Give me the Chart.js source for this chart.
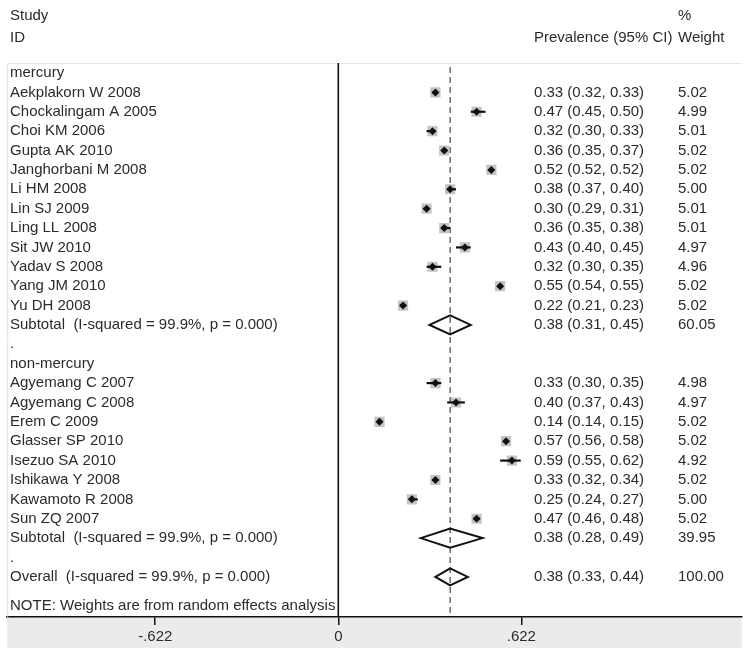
<!DOCTYPE html>
<html>
<head>
<meta charset="utf-8">
<script src="https://cdn.jsdelivr.net/npm/chart.js@4.4.1/dist/chart.umd.min.js"></script>
<style>
  html, body { margin: 0; padding: 0; background: #fff; }
  #forest { display: block; }
</style>
</head>
<body>
<canvas id="forest" width="749" height="656"></canvas>
<script>
// study data (mercury then non-mercury)
var studyNames = [
    'Aekplakorn W 2008', 'Chockalingam A 2005', 'Choi KM 2006', 'Gupta AK 2010',
    'Janghorbani M 2008', 'Li HM 2008', 'Lin SJ 2009', 'Ling LL 2008',
    'Sit JW 2010', 'Yadav S 2008', 'Yang JM 2010', 'Yu DH 2008',
    'Agyemang C 2007', 'Agyemang C 2008', 'Erem C 2009', 'Glasser SP 2010',
    'Isezuo SA 2010', 'Ishikawa Y 2008', 'Kawamoto R 2008', 'Sun ZQ 2007'
];
var studyEst = [0.33, 0.47, 0.32, 0.36, 0.52, 0.38, 0.30, 0.36, 0.43, 0.32, 0.55, 0.22,
                0.33, 0.40, 0.14, 0.57, 0.59, 0.33, 0.25, 0.47];
var studyLow = [0.32, 0.45, 0.30, 0.35, 0.52, 0.37, 0.29, 0.35, 0.40, 0.30, 0.54, 0.21,
                0.30, 0.37, 0.14, 0.56, 0.55, 0.32, 0.24, 0.46];
var studyHigh = [0.33, 0.50, 0.33, 0.37, 0.52, 0.40, 0.31, 0.38, 0.45, 0.35, 0.55, 0.23,
                 0.35, 0.43, 0.15, 0.58, 0.62, 0.34, 0.27, 0.48];
var studyWeight = [5.02, 4.99, 5.01, 5.02, 5.02, 5.00, 5.01, 5.01, 4.97, 4.96, 5.02, 5.02,
                   4.98, 4.97, 5.02, 5.02, 4.92, 5.02, 5.00, 5.02];
var studyRow = [1, 2, 3, 4, 5, 6, 7, 8, 9, 10, 11, 12,
                16, 17, 18, 19, 20, 21, 22, 23];

// pooled estimates
var poolLabels = ['Subtotal  (I-squared = 99.9%, p = 0.000)', 'Subtotal  (I-squared = 99.9%, p = 0.000)',
                  'Overall  (I-squared = 99.9%, p = 0.000)'];
var poolEst = [0.38, 0.38, 0.38];
var poolLow = [0.31, 0.28, 0.33];
var poolHigh = [0.45, 0.49, 0.44];
var poolWeight = [60.05, 39.95, 100.00];
var poolRow = [13, 24, 26];

// other text rows
var otherLabels = ['mercury', '.', 'non-mercury', '.'];
var otherRow = [0, 14, 15, 25];
var noteText = 'NOTE: Weights are from random effects analysis';
var noteRow = 27.5;

// axis
var tickValues = [-0.622, 0, 0.622];
var tickLabels = ['-.622', '0', '.622'];
var overallLine = 0.38;
var xMin = -1.125, xMax = 1.371;
var yMin = -0.516, yMax = 28.07;

var FAMILY = '"Liberation Sans", Arial, Helvetica, sans-serif';
var FONT = '15px ' + FAMILY;
var TEXT = '#2b2b2b';

function fmt(e, l, h) {
    return e.toFixed(2) + ' (' + l.toFixed(2) + ', ' + h.toFixed(2) + ')';
}

var boxPoints = [], dotPoints = [], boxRadius = [];
studyEst.forEach(function (v, i) {
    boxPoints.push({ x: v, y: studyRow[i] });
    dotPoints.push({ x: v, y: studyRow[i] });
    boxRadius.push(7.2 * Math.sqrt(studyWeight[i] / 5));
});

var forestPlugin = {
    id: 'forest',
    beforeDraw: function (chart) {
        var c = chart.ctx, a = chart.chartArea;
        // grey band under axis
        c.save();
        c.fillStyle = '#ebebeb';
        c.fillRect(a.left, a.bottom, a.right - a.left, 31);
        c.restore();
    },
    beforeDatasetsDraw: function (chart) {
        var c = chart.ctx, a = chart.chartArea;
        var xs = chart.scales.x;
        c.save();
        // light frame
        c.strokeStyle = '#e4e4e4';
        c.lineWidth = 1;
        c.beginPath();
        c.moveTo(a.left + 0.5, a.bottom);
        c.lineTo(a.left + 0.5, a.top + 0.5);
        c.lineTo(a.right - 0.5, a.top + 0.5);
        c.stroke();
        // zero line
        var x0 = xs.getPixelForValue(0);
        c.strokeStyle = '#111';
        c.lineWidth = 1.6;
        c.beginPath();
        c.moveTo(x0, a.top);
        c.lineTo(x0, a.bottom);
        c.stroke();
        // overall estimate dashed line
        var xo = xs.getPixelForValue(overallLine);
        c.strokeStyle = '#333';
        c.lineWidth = 1.1;
        c.setLineDash([6, 4]);
        c.beginPath();
        c.moveTo(xo, a.top + 4);
        c.lineTo(xo, a.bottom);
        c.stroke();
        c.restore();
    },
    afterDatasetDraw: function (chart, args) {
        if (args.index !== 0) return;
        var c = chart.ctx, xs = chart.scales.x, ys = chart.scales.y;
        c.save();
        c.strokeStyle = '#111';
        c.lineWidth = 2.2;
        studyEst.forEach(function (v, i) {
            var y = ys.getPixelForValue(studyRow[i]);
            c.beginPath();
            c.moveTo(xs.getPixelForValue(studyLow[i]), y);
            c.lineTo(xs.getPixelForValue(studyHigh[i]), y);
            c.stroke();
        });
        c.restore();
    },
    afterDatasetsDraw: function (chart) {
        var c = chart.ctx, xs = chart.scales.x, ys = chart.scales.y;
        c.save();
        c.strokeStyle = '#111';
        c.lineWidth = 2;
        c.lineJoin = 'miter';
        poolEst.forEach(function (v, i) {
            var y = ys.getPixelForValue(poolRow[i]);
            var h = i === 2 ? 8.5 : 9.5;
            c.beginPath();
            c.moveTo(xs.getPixelForValue(poolLow[i]), y);
            c.lineTo(xs.getPixelForValue(v), y - h);
            c.lineTo(xs.getPixelForValue(poolHigh[i]), y);
            c.lineTo(xs.getPixelForValue(v), y + h);
            c.closePath();
            c.stroke();
        });
        c.restore();
    },
    afterDraw: function (chart) {
        var c = chart.ctx, ys = chart.scales.y;
        var colName = 10, colCI = 534, colW = 678;
        c.save();
        c.font = FONT;
        c.fillStyle = TEXT;
        c.textBaseline = 'middle';
        c.textAlign = 'left';
        // header
        c.fillText('Study', colName, 16);
        c.fillText('ID', colName, 38);
        c.fillText('%', colW, 16);
        c.fillText('Weight', colW, 38);
        c.fillText('Prevalence (95% CI)', colCI, 38);
        otherLabels.forEach(function (t, i) {
            c.fillText(t, colName, ys.getPixelForValue(otherRow[i]));
        });
        studyNames.forEach(function (t, i) {
            var y = ys.getPixelForValue(studyRow[i]);
            c.fillText(t, colName, y);
            c.fillText(fmt(studyEst[i], studyLow[i], studyHigh[i]), colCI, y);
            c.fillText(studyWeight[i].toFixed(2), colW, y);
        });
        poolLabels.forEach(function (t, i) {
            var y = ys.getPixelForValue(poolRow[i]);
            c.fillText(t, colName, y);
            c.fillText(fmt(poolEst[i], poolLow[i], poolHigh[i]), colCI, y);
            c.fillText(poolWeight[i].toFixed(2), colW, y);
        });
        c.fillText(noteText, colName, ys.getPixelForValue(noteRow));
        c.restore();
    }
};

new Chart(document.getElementById('forest'), {
    type: 'scatter',
    data: {
        datasets: [{
            data: boxPoints,
            pointStyle: 'rect',
            pointRadius: boxRadius,
            backgroundColor: '#c4c4c4',
            borderWidth: 0,
            order: 2
        }, {
            data: dotPoints,
            pointStyle: 'rectRot',
            pointRadius: 4,
            backgroundColor: '#111',
            borderWidth: 0,
            order: 1
        }]
    },
    options: {
        responsive: false,
        animation: false,
        events: [],
        layout: { padding: { left: 5, right: 4, top: 63, bottom: 0 } },
        plugins: {
            legend: { display: false },
            tooltip: { enabled: false }
        },
        scales: {
            x: {
                type: 'linear',
                position: 'bottom',
                min: xMin,
                max: xMax,
                afterBuildTicks: function (scale) {
                    scale.ticks = tickValues.map(function (v) { return { value: v }; });
                },
                afterFit: function (scale) {
                    scale.height = 39;
                },
                grid: {
                    drawOnChartArea: false,
                    drawTicks: true,
                    tickLength: 8,
                    color: '#111',
                    lineWidth: 1.5
                },
                border: { display: true, color: '#111', width: 1.5 },
                ticks: {
                    autoSkip: false,
                    maxRotation: 0,
                    padding: 3,
                    color: TEXT,
                    font: { family: FAMILY, size: 15 },
                    callback: function (value, index) {
                        return tickLabels[index];
                    }
                }
            },
            y: {
                type: 'linear',
                display: false,
                reverse: true,
                min: yMin,
                max: yMax
            }
        }
    },
    plugins: [forestPlugin]
});
</script>
</body>
</html>
